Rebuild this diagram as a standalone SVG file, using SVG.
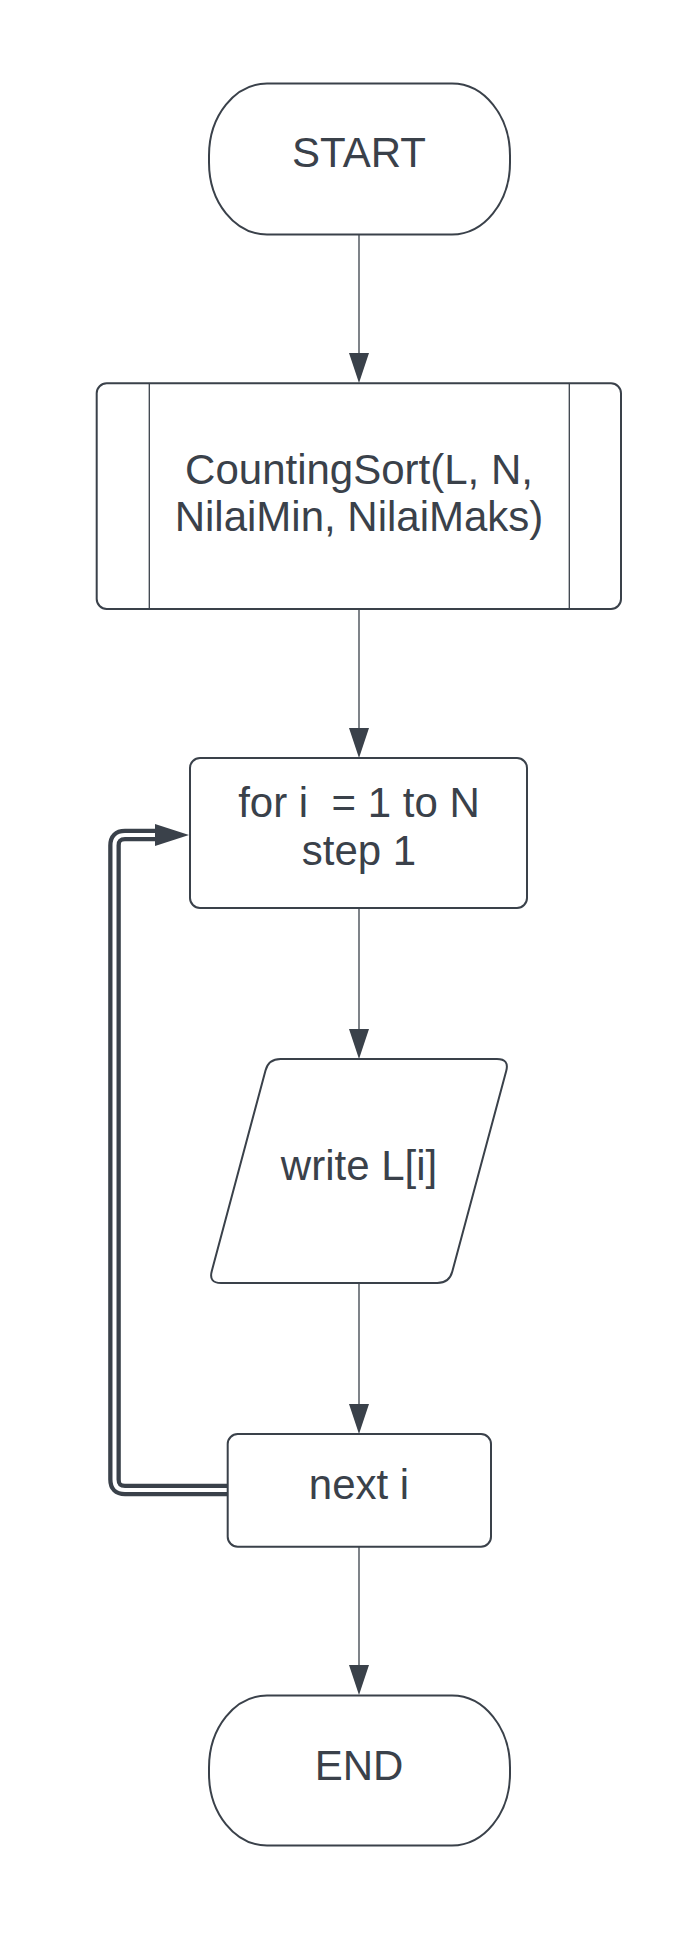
<svg xmlns="http://www.w3.org/2000/svg" width="698" height="1941" viewBox="0 0 698 1941">
  <style>
    .shape { fill: #ffffff; stroke: #3a414a; stroke-width: 2; }
    .thin { fill: none; stroke: #3a414a; stroke-width: 1.3; }
    .label { font-family: "Liberation Sans", Arial, sans-serif; font-size: 42px; fill: #3a414a; text-anchor: middle; }
    .conn { fill: none; stroke: #3a414a; stroke-width: 1.3; }
  </style>
  <defs>
    <marker id="arrow" viewBox="0 0 30 20" refX="2" refY="10" markerWidth="30" markerHeight="20" markerUnits="userSpaceOnUse" orient="auto">
      <path d="M0,0 L30,10 L0,20 z" fill="#3a414a"/>
    </marker>
    <marker id="arrowBig" viewBox="0 0 34 22" refX="2" refY="11" markerWidth="34" markerHeight="22" markerUnits="userSpaceOnUse" orient="auto">
      <path d="M0,0 L34,11 L0,22 z" fill="#3a414a"/>
    </marker>
  </defs>
  <rect width="698" height="1941" fill="#ffffff"/>

  <g id="connectors">
    <path class="conn" d="M359,234 V355" marker-end="url(#arrow)"/>
    <path class="conn" d="M359,609 V730" marker-end="url(#arrow)"/>
    <path class="conn" d="M359,908 V1031" marker-end="url(#arrow)"/>
    <path class="conn" d="M359,1283 V1406" marker-end="url(#arrow)"/>
    <path class="conn" d="M359,1547 V1667" marker-end="url(#arrow)"/>
    <g id="loop">
      <path d="M227.7,1490 H125 Q114.5,1490 114.5,1479.5 V845.5 Q114.5,835 125,835 H157" fill="none" stroke="#3a414a" stroke-width="12.6"/>
      <path d="M227.7,1490 H125 Q114.5,1490 114.5,1479.5 V845.5 Q114.5,835 125,835 H157" fill="none" stroke="#ffffff" stroke-width="4" marker-end="url(#arrowBig)"/>
    </g>
  </g>

  <g id="start">
    <rect class="shape" x="209" y="83.5" width="301" height="151" rx="58" ry="72"/>
    <text class="label" x="359" y="167">START</text>
  </g>

  <g id="countingsort">
    <rect class="shape" x="96.7" y="383.3" width="524.3" height="225.7" rx="10" ry="10"/>
    <line class="thin" x1="149.3" y1="383.3" x2="149.3" y2="609"/>
    <line class="thin" x1="569.3" y1="383.3" x2="569.3" y2="609"/>
    <text class="label" x="359" y="483.5">CountingSort(L, N,</text>
    <text class="label" x="359" y="530.5">NilaiMin, NilaiMaks)</text>
  </g>

  <g id="forloop">
    <rect class="shape" x="190" y="758" width="337" height="150" rx="10" ry="10"/>
    <text class="label" x="359" y="816.5" xml:space="preserve">for i  = 1 to N</text>
    <text class="label" x="359" y="864.5">step 1</text>
  </g>

  <g id="write">
    <path class="shape" d="M280.5,1059 H497 Q509.5,1059 506.2,1071 L452.3,1271.5 Q449.3,1283 437.3,1283 H221 Q208.5,1283 211.8,1271 L265.5,1070.5 Q268.5,1059 280.5,1059 Z"/>
    <text class="label" x="359" y="1179.5">write L[i]</text>
  </g>

  <g id="next">
    <rect class="shape" x="227.7" y="1434" width="263.3" height="112.7" rx="10" ry="10"/>
    <text class="label" x="359" y="1498.5">next i</text>
  </g>

  <g id="end">
    <rect class="shape" x="209" y="1695.5" width="301" height="150" rx="58" ry="72"/>
    <text class="label" x="359" y="1779.5">END</text>
  </g>
</svg>
